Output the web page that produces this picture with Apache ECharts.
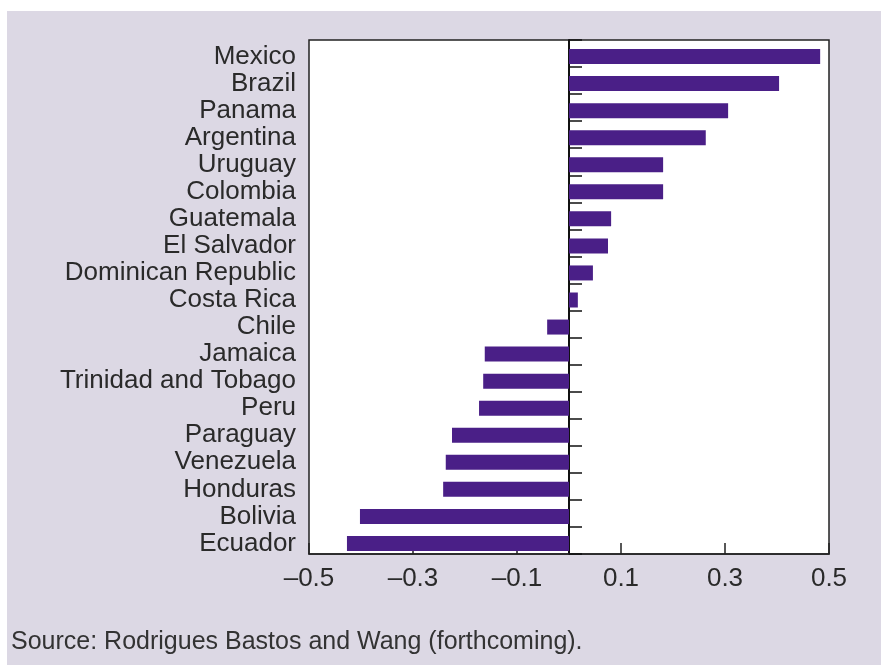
<!DOCTYPE html>
<html>
<head>
<meta charset="utf-8">
<script src="https://cdn.jsdelivr.net/npm/echarts@6/dist/echarts.min.js"></script>
<style>
  html, body { margin: 0; padding: 0; background: #ffffff; }
  #bg { position: absolute; left: 7px; top: 11px; width: 874px; height: 654px; background: #dcd8e4; }
  #chart { position: absolute; left: 0; top: 0; width: 881px; height: 665px; }
</style>
</head>
<body>
<div id="bg"></div>
<div id="chart"></div>
<script>
// Data (top to bottom as in the reference)
var countries = ["Mexico", "Brazil", "Panama", "Argentina", "Uruguay", "Colombia",
  "Guatemala", "El Salvador", "Dominican Republic", "Costa Rica", "Chile", "Jamaica",
  "Trinidad and Tobago", "Peru", "Paraguay", "Venezuela", "Honduras", "Bolivia", "Ecuador"];
var values = [0.483, 0.404, 0.306, 0.263, 0.181, 0.181,
  0.081, 0.075, 0.046, 0.017, -0.042, -0.162,
  -0.165, -0.173, -0.225, -0.237, -0.242, -0.402, -0.427];
var xTicks = [-0.5, -0.3, -0.1, 0.1, 0.3, 0.5];
var sourceNote = "Source: Rodrigues Bastos and Wang (forthcoming).";

var FONT = "'Liberation Sans', Arial, sans-serif";
var chart = echarts.init(document.getElementById('chart'), null, { renderer: 'canvas' });
chart.setOption({
  backgroundColor: 'transparent',
  animation: false,
  title: {
    text: sourceNote,
    left: 6,
    top: 625,
    textStyle: { fontFamily: FONT, fontSize: 25, fontWeight: 'normal', color: '#333333' }
  },
  grid: [
    {
      left: 309, right: 52, top: 40, bottom: 111,
      show: true, backgroundColor: '#ffffff', borderColor: '#222222', borderWidth: 1.5
    },
    {
      left: 309, right: 52, top: 43, bottom: 108, show: false
    }
  ],
  xAxis: [
    {
      type: 'value',
      gridIndex: 0,
      min: xTicks[0],
      max: xTicks[xTicks.length - 1],
      interval: 0.2,
      axisLine: { show: true, lineStyle: { color: '#222222', width: 1.5 } },
      axisTick: { show: true, inside: true, length: 11, lineStyle: { color: '#222222', width: 1.5 } },
      splitLine: { show: false },
      axisLabel: {
        fontFamily: FONT, fontSize: 26, color: '#2a2a2a', margin: 12,
        formatter: function (v) {
          var n = Math.round(v * 10) / 10;
          return (n < 0 ? '\u2013' : '') + Math.abs(n).toFixed(1);
        }
      }
    },
    {
      type: 'value',
      gridIndex: 1,
      min: xTicks[0],
      max: xTicks[xTicks.length - 1],
      interval: 0.2,
      show: false,
      splitLine: { show: false }
    }
  ],
  yAxis: [
    {
      type: 'category',
      gridIndex: 1,
      data: countries,
      inverse: true,
      position: 'left',
      axisLine: { show: false, onZero: false },
      axisTick: { show: false },
      axisLabel: { interval: 0, fontFamily: FONT, fontSize: 26, lineHeight: 27, color: '#2a2a2a', margin: 13 }
    },
    {
      type: 'category',
      gridIndex: 0,
      data: countries,
      inverse: true,
      position: 'left',
      axisLine: { show: true, onZero: true, lineStyle: { color: '#111111', width: 2 } },
      axisTick: { show: true, interval: 0, inside: true, length: 13, lineStyle: { color: '#111111', width: 1.5 } },
      axisLabel: { show: false },
      splitLine: { show: false }
    }
  ],
  series: [{
    type: 'bar',
    xAxisIndex: 1,
    yAxisIndex: 0,
    data: values,
    barWidth: 15,
    itemStyle: { color: '#4a1f87' },
    z: 1
  }]
});
</script>
</body>
</html>
